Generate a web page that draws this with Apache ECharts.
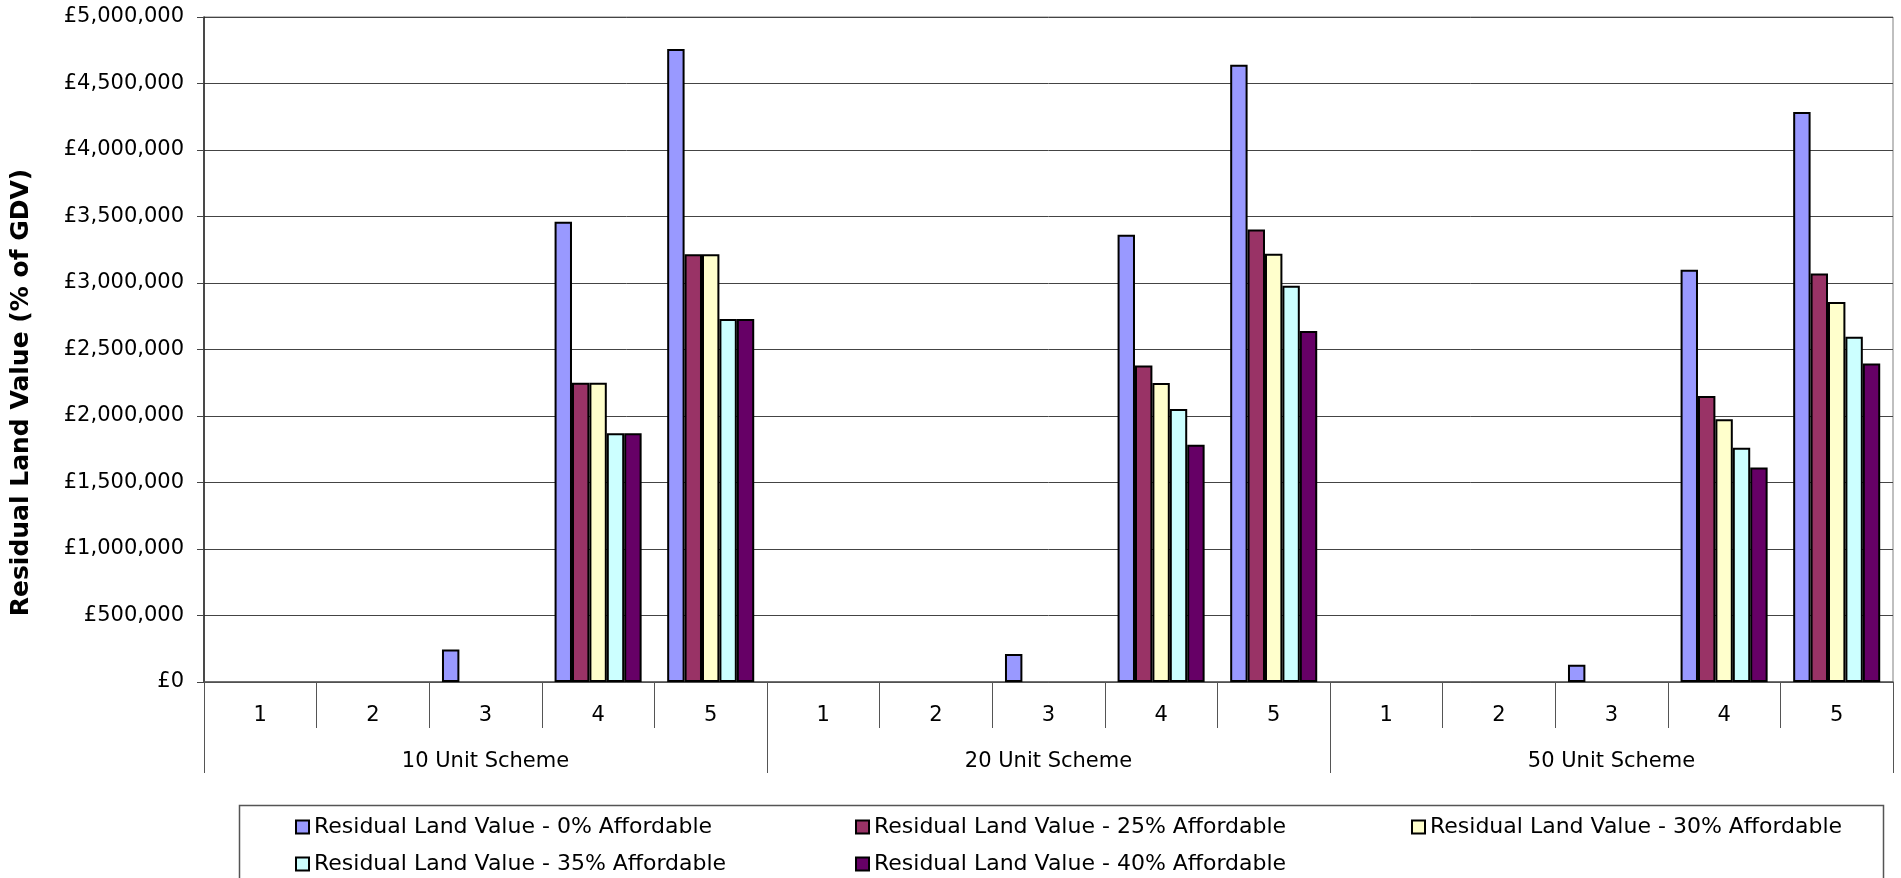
<!DOCTYPE html>
<html>
<head>
<meta charset="utf-8">
<title>Residual Land Value</title>
<script src="https://cdn.jsdelivr.net/npm/echarts@6/dist/echarts.min.js"></script>
<style>
  html, body { margin: 0; padding: 0; background: #fff; }
  #chart { width: 1901px; height: 878px; }
</style>
</head>
<body>
<div id="chart"></div>
<script>
// Scenario categories: five sites within each scheme size
const categories = ['1','2','3','4','5','1','2','3','4','5','1','2','3','4','5'];
const schemes = ['10 Unit Scheme', '20 Unit Scheme', '50 Unit Scheme'];

// Residual land value (£) per affordable housing level
const rlv0  = [0, 0, 245000, 3460000, 4760000, 0, 0, 211000, 3363000, 4641000, 0, 0, 130000, 3100000, 4286000];
const rlv25 = [0, 0, 0, 2250000, 3217000, 0, 0, 0, 2380000, 3403000, 0, 0, 0, 2150000, 3072000];
const rlv30 = [0, 0, 0, 2250000, 3217000, 0, 0, 0, 2248000, 3220000, 0, 0, 0, 1975000, 2857000];
const rlv35 = [0, 0, 0, 1870000, 2730000, 0, 0, 0, 2053000, 2980000, 0, 0, 0, 1762000, 2595000];
const rlv40 = [0, 0, 0, 1870000, 2730000, 0, 0, 0, 1784000, 2640000, 0, 0, 0, 1612000, 2395000];

const seriesNames = [
  'Residual Land Value - 0% Affordable',
  'Residual Land Value - 25% Affordable',
  'Residual Land Value - 30% Affordable',
  'Residual Land Value - 35% Affordable',
  'Residual Land Value - 40% Affordable'
];
const seriesData = [rlv0, rlv25, rlv30, rlv35, rlv40];
const colors = ['#9999FF', '#993366', '#FFFFCC', '#CCFFFF', '#660066'];

const FONT = 'DejaVu Sans, Verdana, sans-serif';

const chart = echarts.init(document.getElementById('chart'));

// One legend per item so they sit in fixed columns
const legendPos = [
  [295, 816], [855, 816], [1411, 816],
  [295, 853], [855, 853]
];

const option = {
  animation: false,
  backgroundColor: '#ffffff',
  grid: {
    left: 204, right: 8, top: 17, bottom: 196,
    show: true, borderColor: '#808080', borderWidth: 1, backgroundColor: 'transparent'
  },
  legend: seriesNames.map((n, i) => ({
    data: [n],
    left: legendPos[i][0],
    top: legendPos[i][1],
    padding: 0,
    icon: 'rect',
    itemWidth: 13,
    itemHeight: 13,
    itemGap: 0,
    selectedMode: false,
    textStyle: { fontFamily: FONT, fontSize: 22, color: '#000' }
  })),
  graphic: [{
    type: 'rect',
    shape: { x: 239.5, y: 805.5, width: 1644, height: 120 },
    style: { fill: 'none', stroke: '#555', lineWidth: 1.5 },
    silent: true
  }],
  xAxis: [
    {
      type: 'category',
      data: categories,
      position: 'bottom',
      axisLine: { show: true, lineStyle: { color: '#555', width: 1.5 } },
      axisTick: { show: true, interval: 0, length: 46, lineStyle: { color: '#555', width: 1 } },
      axisLabel: { interval: 0, margin: 23, fontFamily: FONT, fontSize: 21, color: '#000' },
      splitLine: { show: false }
    },
    {
      type: 'category',
      data: schemes,
      position: 'bottom',
      axisLine: { show: false },
      axisTick: { show: true, interval: 0, length: 91, lineStyle: { color: '#555', width: 1 } },
      axisLabel: { interval: 0, margin: 69, fontFamily: FONT, fontSize: 21, color: '#000' },
      splitLine: { show: false }
    }
  ],
  yAxis: {
    type: 'value',
    min: 0,
    max: 5000000,
    interval: 500000,
    name: 'Residual Land Value (% of GDV)',
    nameLocation: 'middle',
    nameGap: 170,
    nameTextStyle: {
      fontFamily: FONT, fontSize: 25, fontWeight: 'bold', color: '#000',
      padding: [0, 86, 0, 0]
    },
    axisLine: { show: true, lineStyle: { color: '#222', width: 1.5 } },
    axisTick: { show: true, length: 7, lineStyle: { color: '#444' } },
    axisLabel: {
      margin: 20,
      fontFamily: FONT, fontSize: 21, color: '#000',
      formatter: v => '£' + v.toLocaleString('en-GB')
    },
    splitLine: { show: true, lineStyle: { color: '#444', width: 1 } }
  },
  series: seriesNames.map((n, i) => ({
    name: n,
    type: 'bar',
    xAxisIndex: 0,
    // a zero value leaves the slot empty rather than drawing a flat bar
    data: seriesData[i].map(v => (v === 0 ? '-' : v)),
    barGap: '0%',
    barCategoryGap: '22.7%',
    itemStyle: { color: colors[i], borderColor: '#000', borderWidth: 2 }
  }))
};

chart.setOption(option);
</script>
</body>
</html>
